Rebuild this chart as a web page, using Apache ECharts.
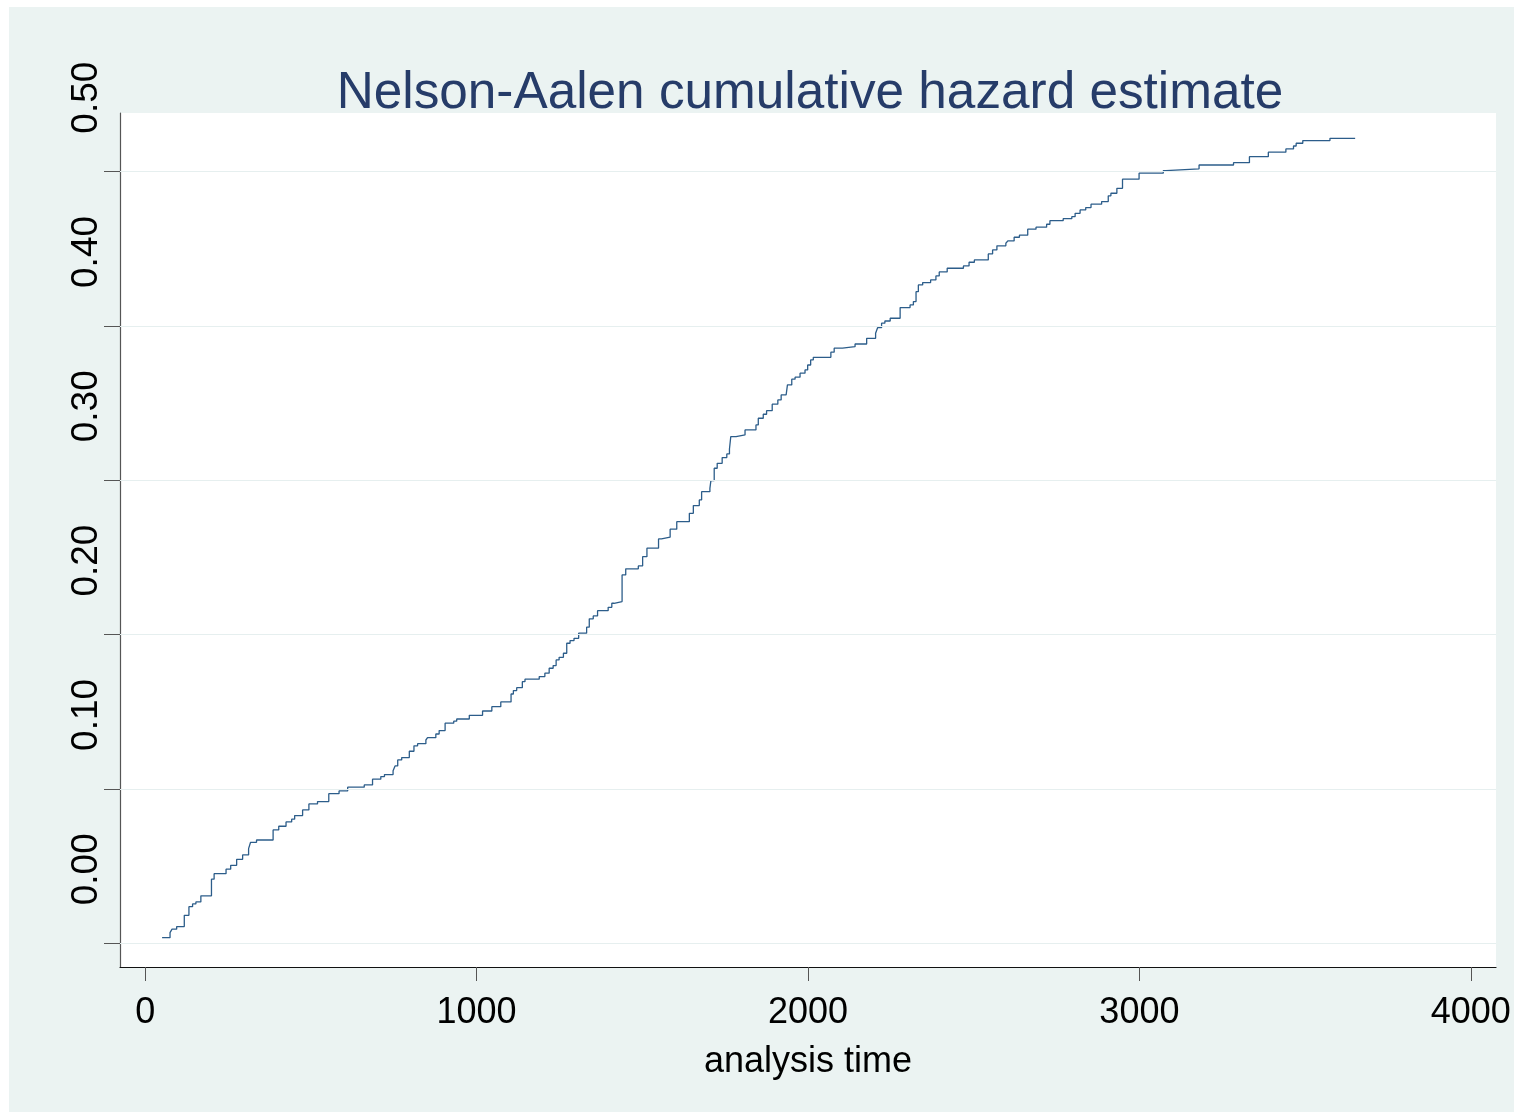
<!DOCTYPE html>
<html>
<head>
<meta charset="utf-8">
<title>Nelson-Aalen cumulative hazard estimate</title>
<script src="https://cdn.jsdelivr.net/npm/echarts@6/dist/echarts.min.js"></script>
<style>
  html, body { margin: 0; padding: 0; background: #fff; overflow: hidden; }
  #chart { position: absolute; left: 9px; top: 7px; width: 1505px; height: 1105px; background: #ebf3f2; }
</style>
</head>
<body>
<div id="chart"></div>
<script>
// step points (analysis time, cumulative hazard)
const times = [
  51, 75, 81, 95, 118, 132, 143, 153, 168, 200, 208, 244, 258, 276, 294, 312, 318, 336, 386, 403,
  425, 442, 451, 475, 494, 520, 554, 585, 611, 661, 686, 711, 722, 748, 754, 762, 774, 797, 811, 822,
  847, 852, 877, 887, 905, 931, 940, 978, 1018, 1046, 1073, 1104, 1111, 1121, 1138, 1146, 1189, 1206, 1219, 1231,
  1240, 1249, 1262, 1272, 1282, 1294, 1308, 1332, 1340, 1352, 1365, 1397, 1408, 1415, 1439, 1450, 1488, 1501, 1514, 1549,
  1558, 1584, 1604, 1642, 1654, 1672, 1679, 1704, 1707, 1717, 1726, 1741, 1755, 1763, 1767, 1783, 1810, 1843, 1850, 1865,
  1875, 1892, 1909, 1919, 1934, 1938, 1951, 1961, 1976, 1991, 1999, 2008, 2016, 2069, 2079, 2104, 2142, 2177, 2204, 2210,
  2222, 2232, 2248, 2278, 2308, 2318, 2326, 2333, 2346, 2370, 2386, 2396, 2420, 2469, 2486, 2502, 2544, 2557, 2570, 2597,
  2603, 2622, 2638, 2663, 2688, 2720, 2730, 2770, 2796, 2806, 2821, 2838, 2854, 2886, 2906, 2914, 2932, 2949, 2999, 3072,
  3080, 3180, 3284, 3332, 3389, 3442, 3465, 3473, 3493, 3575, 3651
];
const hazard = [
  0.0036, 0.0069, 0.0091, 0.0108, 0.0181, 0.0237, 0.0255, 0.0268, 0.0307, 0.0415, 0.0451, 0.0480, 0.0505, 0.0544, 0.0572, 0.0613, 0.0654, 0.0669, 0.0734, 0.0758,
  0.0786, 0.0804, 0.0827, 0.0864, 0.0903, 0.0918, 0.0969, 0.0987, 0.1011, 0.1026, 0.1063, 0.1080, 0.1093, 0.1117, 0.1149, 0.1188, 0.1203, 0.1244, 0.1279, 0.1293,
  0.1317, 0.1332, 0.1356, 0.1378, 0.1426, 0.1439, 0.1453, 0.1477, 0.1505, 0.1533, 0.1564, 0.1615, 0.1637, 0.1656, 0.1695, 0.1711, 0.1728, 0.1750, 0.1782, 0.1799,
  0.1836, 0.1853, 0.1879, 0.1944, 0.1961, 0.1976, 0.2009, 0.2048, 0.2102, 0.2121, 0.2155, 0.2177, 0.2203, 0.2214, 0.2387, 0.2426, 0.2445, 0.2505, 0.2560, 0.2620,
  0.2631, 0.2683, 0.2732, 0.2786, 0.2836, 0.2873, 0.2926, 0.2948, 0.2998, 0.3078, 0.3110, 0.3147, 0.3171, 0.3203, 0.3283, 0.3294, 0.3326, 0.3359, 0.3402, 0.3428,
  0.3451, 0.3493, 0.3521, 0.3553, 0.3564, 0.3618, 0.3655, 0.3668, 0.3694, 0.3715, 0.3747, 0.3780, 0.3797, 0.3830, 0.3856, 0.3866, 0.3883, 0.3920, 0.3953, 0.3989,
  0.4018, 0.4032, 0.4050, 0.4119, 0.4136, 0.4158, 0.4222, 0.4266, 0.4281, 0.4298, 0.4324, 0.4350, 0.4374, 0.4389, 0.4413, 0.4428, 0.4467, 0.4493, 0.4519, 0.4536,
  0.4551, 0.4575, 0.4588, 0.4627, 0.4640, 0.4659, 0.4682, 0.4695, 0.4708, 0.4730, 0.4752, 0.4767, 0.4789, 0.4806, 0.4843, 0.4860, 0.4892, 0.4951, 0.4990, 0.5006,
  0.5018, 0.5043, 0.5058, 0.5097, 0.5126, 0.5147, 0.5166, 0.5184, 0.5201, 0.5216, 0.5216
];
const xTicks = [0, 1000, 2000, 3000, 4000];
const yTicks = [0, 0.1, 0.2, 0.3, 0.4, 0.5];

const font = "'Liberation Sans', Arial, Helvetica, sans-serif";
const chart = echarts.init(document.getElementById('chart'));

chart.setOption({
  animation: false,
  backgroundColor: 'transparent',
  title: {
    text: 'Nelson-Aalen cumulative hazard estimate',
    left: 796,
    top: 56,
    textAlign: 'center',
    textStyle: { color: '#263c69', fontFamily: font, fontWeight: 'normal', fontSize: 51.3 }
  },
  grid: {
    left: 111, right: 18, top: 106, bottom: 145,
    outerBoundsMode: 'none',
    containLabel: false,
    show: true, backgroundColor: '#ffffff', borderWidth: 0
  },
  xAxis: {
    type: 'value',
    min: -76,
    max: 4076,
    name: 'analysis time',
    nameLocation: 'middle',
    nameGap: 77,
    nameTextStyle: { color: '#000', fontFamily: font, fontSize: 36 },
    axisLine: { onZero: false, lineStyle: { color: '#111', width: 1.2 } },
    axisTick: { customValues: xTicks, length: 14, lineStyle: { color: '#555' } },
    axisLabel: {
      customValues: xTicks,
      margin: 28,
      color: '#000',
      fontFamily: font,
      fontSize: 36,
      formatter: v => String(v)
    },
    splitLine: { show: false }
  },
  yAxis: {
    type: 'value',
    min: -0.0154,
    max: 0.538,
    axisLine: { show: true, onZero: false, lineStyle: { color: '#555', width: 1.2 } },
    axisTick: { show: true, customValues: yTicks, length: 16, lineStyle: { color: '#555' } },
    axisLabel: {
      customValues: yTicks,
      rotate: 90,
      margin: 15,
      padding: [0, 0, 0, 148],
      color: '#000',
      fontFamily: font,
      fontSize: 37,
      formatter: v => v.toFixed(2)
    },
    splitLine: { show: false }
  },
  series: [{
    type: 'line',
    step: 'end',
    showSymbol: false,
    lineStyle: { color: '#2c5d8a', width: 1.3 },
    data: times.map((t, i) => [t, hazard[i]]),
    markLine: {
      silent: true,
      symbol: ['none', 'none'],
      label: { show: false },
      lineStyle: { color: '#e6efef', width: 1, type: 'solid' },
      data: yTicks.map(v => ({ yAxis: v }))
    },
    z: 3
  }]
});
</script>
</body>
</html>
